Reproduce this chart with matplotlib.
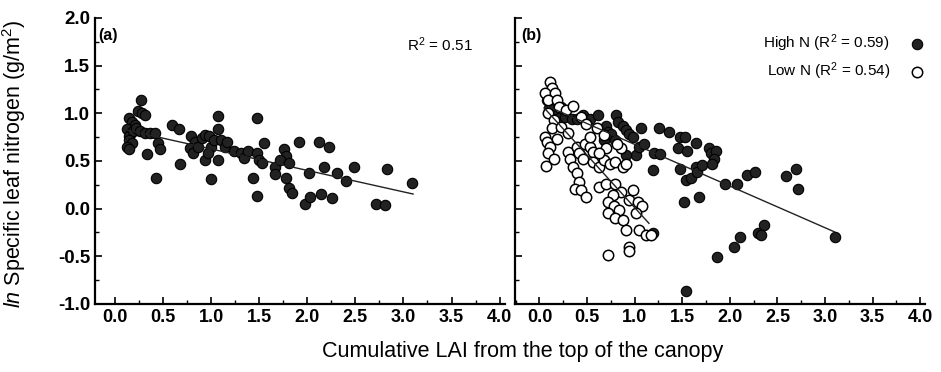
import numpy as np
import matplotlib
matplotlib.use("Agg")
import matplotlib.pyplot as plt
from matplotlib.ticker import MultipleLocator

# ---- data ----
# (a) all plots
lai_a = [0.27, 0.24, 0.28, 0.31, 0.14, 0.17, 0.21, 0.12, 0.16, 0.14, 0.19, 0.22, 0.26,
         0.14, 0.17, 0.12, 0.14, 0.31, 0.36, 0.41, 0.33, 0.42, 0.45, 0.47, 0.59, 0.66,
         0.67, 0.79, 0.83, 0.78, 0.81, 0.86, 0.90, 0.93, 0.98, 1.00, 1.03, 0.93, 0.97,
         1.00, 1.07, 1.07, 1.07, 1.10, 1.14, 1.16, 1.24, 1.31, 1.34, 1.38, 1.43, 1.48,
         1.48, 1.48, 1.50, 1.53, 1.55, 1.66, 1.66, 1.76, 1.78, 1.72, 1.81, 1.78, 1.81,
         1.84, 1.91, 1.97, 2.02, 2.03, 2.12, 2.14, 2.17, 2.22, 2.26, 2.31, 2.40, 2.48,
         2.71, 2.81, 2.83, 3.09]
sln_a = [1.14, 1.02, 1.00, 0.98, 0.95, 0.91, 0.88, 0.83, 0.79, 0.76, 0.81, 0.84, 0.81,
         0.72, 0.69, 0.65, 0.62, 0.79, 0.79, 0.79, 0.57, 0.32, 0.69, 0.62, 0.88, 0.83,
         0.47, 0.76, 0.70, 0.63, 0.58, 0.65, 0.74, 0.77, 0.76, 0.65, 0.72, 0.51, 0.58,
         0.31, 0.97, 0.83, 0.51, 0.72, 0.65, 0.70, 0.60, 0.58, 0.53, 0.60, 0.32, 0.95,
         0.13, 0.58, 0.51, 0.48, 0.69, 0.44, 0.36, 0.62, 0.55, 0.51, 0.48, 0.32, 0.22,
         0.16, 0.70, 0.05, 0.37, 0.12, 0.70, 0.15, 0.44, 0.65, 0.11, 0.37, 0.29, 0.44,
         0.05, 0.04, 0.41, 0.27]
fit_a = (0.85, -0.225)          # intercept, slope
fit_a_range = (0.10, 3.10)

# (b) high N plots
lai_high = [0.08, 0.13, 0.18, 0.23, 0.16, 0.10, 0.20, 0.27, 0.34, 0.39, 0.46, 0.53,
            0.61, 0.70, 0.72, 0.80, 0.82, 0.68, 0.75, 0.79, 0.88, 0.91, 0.94, 0.98,
            1.07, 1.01, 1.05, 1.10, 0.91, 1.19, 1.20, 1.27, 1.26, 1.36, 1.48, 1.53,
            1.64, 1.45, 1.55, 1.48, 1.54, 1.59, 1.64, 1.66, 1.71, 1.78, 1.80, 1.85,
            1.83, 1.81, 1.52, 1.68, 1.95, 2.07, 2.18, 2.26, 2.59, 2.69, 2.72, 1.86,
            2.04, 2.11, 2.30, 2.33, 2.36, 3.10, 1.54, 1.19]
sln_high = [1.14, 1.07, 1.03, 1.07, 1.14, 1.05, 0.95, 0.96, 0.94, 0.94, 0.98, 0.94,
            0.98, 0.87, 0.80, 0.98, 0.91, 0.72, 0.78, 0.72, 0.87, 0.82, 0.78, 0.75,
            0.84, 0.56, 0.65, 0.68, 0.56, 0.40, 0.58, 0.57, 0.84, 0.80, 0.75, 0.75,
            0.69, 0.63, 0.60, 0.42, 0.30, 0.32, 0.44, 0.38, 0.46, 0.63, 0.58, 0.60,
            0.52, 0.47, 0.07, 0.12, 0.26, 0.26, 0.35, 0.38, 0.34, 0.41, 0.21, -0.51,
            -0.40, -0.30, -0.26, -0.28, -0.17, -0.30, -0.86, -0.26]
fit_high = (1.11, -0.437)
fit_high_range = (0.10, 3.10)

# (b) low N plots
lai_low = [0.11, 0.13, 0.06, 0.16, 0.09, 0.18, 0.20, 0.09, 0.28, 0.35, 0.44, 0.49,
           0.60, 0.15, 0.13, 0.23, 0.30, 0.06, 0.18, 0.08, 0.11, 0.09, 0.15, 0.07,
           0.30, 0.32, 0.35, 0.39, 0.42, 0.46, 0.48, 0.53, 0.56, 0.39, 0.41, 0.37,
           0.44, 0.49, 0.56, 0.63, 0.68, 0.74, 0.79, 0.88, 0.91, 0.86, 0.81, 0.70,
           0.63, 0.68, 0.53, 0.63, 0.70, 0.79, 0.86, 0.77, 0.72, 0.78, 0.84, 0.72,
           0.79, 0.88, 0.91, 0.94, 0.98, 1.03, 1.08, 1.01, 1.05, 1.12, 1.17, 0.72,
           0.94, 0.94]
sln_low = [1.33, 1.26, 1.21, 1.21, 1.14, 1.14, 1.07, 1.00, 1.03, 1.08, 0.96, 0.89,
           0.84, 0.93, 0.84, 0.86, 0.79, 0.75, 0.73, 0.70, 0.65, 0.58, 0.52, 0.45,
           0.59, 0.52, 0.44, 0.65, 0.58, 0.52, 0.68, 0.65, 0.59, 0.37, 0.28, 0.21,
           0.19, 0.12, 0.49, 0.44, 0.51, 0.47, 0.49, 0.44, 0.47, 0.63, 0.68, 0.63,
           0.58, 0.77, 0.75, 0.23, 0.26, 0.26, 0.17, 0.14, 0.07, 0.03, -0.02, -0.05,
           -0.10, -0.12, -0.23, 0.09, 0.19, 0.07, 0.03, -0.05, -0.23, -0.28, -0.28,
           -0.49, -0.40, -0.44]
fit_low = (1.11, -1.10)
fit_low_range = (0.05, 1.15)

xticks = [0.0, 0.5, 1.0, 1.5, 2.0, 2.5, 3.0, 3.5, 4.0]
yticks = [-1.0, -0.5, 0.0, 0.5, 1.0, 1.5, 2.0]

# ---- style ----
plt.rcParams['font.family'] = ['Liberation Sans', 'DejaVu Sans']
plt.rcParams['mathtext.fontset'] = 'custom'
plt.rcParams['mathtext.rm'] = 'Liberation Sans'
plt.rcParams['mathtext.it'] = 'Liberation Sans:italic'
plt.rcParams['mathtext.bf'] = 'Liberation Sans:bold'

fig = plt.figure(figsize=(9.41, 3.72), dpi=100)
ax_a = fig.add_axes([0.101, 0.183, 0.436, 0.769])
ax_b = fig.add_axes([0.547, 0.183, 0.436, 0.769])

dot = dict(s=56, facecolor='#222222', edgecolor='black', linewidths=0.8)
ring = dict(s=56, facecolor='white', edgecolor='black', linewidths=1.1)


def fit_line(ax, coef, xr):
    xs = np.array(xr)
    ax.plot(xs, coef[0] + coef[1] * xs, color='#222222', lw=1.0, zorder=3)


ax_a.scatter(lai_a, sln_a, zorder=2, **dot)
fit_line(ax_a, fit_a, fit_a_range)

ax_b.scatter(lai_high, sln_high, zorder=2, label=r'High N (R$^2$ = 0.59)', **dot)
ax_b.scatter(lai_low, sln_low, zorder=2.5, label=r'Low N (R$^2$ = 0.54)', **ring)
fit_line(ax_b, fit_high, fit_high_range)
fit_line(ax_b, fit_low, fit_low_range)

for ax, xlim in ((ax_a, (-0.21, 4.06)), (ax_b, (-0.26, 4.05))):
    ax.set_xlim(*xlim)
    ax.set_ylim(-1.0, 2.0)
    ax.set_xticks(xticks)
    ax.set_yticks(yticks)
    ax.xaxis.set_minor_locator(MultipleLocator(0.25))
    ax.yaxis.set_minor_locator(MultipleLocator(0.25))
    ax.spines['top'].set_visible(False)
    ax.spines['right'].set_visible(False)
    ax.spines['left'].set_linewidth(1.6)
    ax.spines['bottom'].set_linewidth(1.6)
    ax.tick_params(which='major', direction='in', length=5, width=1.2)
    ax.tick_params(which='minor', direction='in', length=3, width=1.0)
    ax.set_xticklabels([f'{t:.1f}' for t in xticks], fontsize=13, fontweight='bold')

ax_a.set_yticklabels([f'{t:.1f}' for t in yticks], fontsize=13.5, fontweight='bold')
ax_b.tick_params(labelleft=False)

ax_a.text(0.008, 0.94, '(a)', transform=ax_a.transAxes, fontsize=11.5,
          fontweight='bold', va='center', ha='left')
ax_b.text(0.015, 0.94, '(b)', transform=ax_b.transAxes, fontsize=11.5,
          fontweight='bold', va='center', ha='left')
ax_a.text(0.92, 0.905, r'R$^2$ = 0.51', transform=ax_a.transAxes, fontsize=11,
          va='center', ha='right')

ax_b.legend(loc='upper right', bbox_to_anchor=(1.0, 0.95), frameon=False,
            markerfirst=False, fontsize=11, handlelength=1.0, handletextpad=1.3,
            labelspacing=0.45, borderpad=0, borderaxespad=0)

ax_a.set_ylabel(r'$\mathit{ln}$ Specific leaf nitrogen (g/m$^2$)', fontsize=15.5)
ax_a.yaxis.set_label_coords(-0.163, 0.49)
fig.text(0.555, 0.054, 'Cumulative LAI from the top of the canopy', fontsize=15.5,
         ha='center', va='center')

fig.savefig('out.png', dpi=100)
